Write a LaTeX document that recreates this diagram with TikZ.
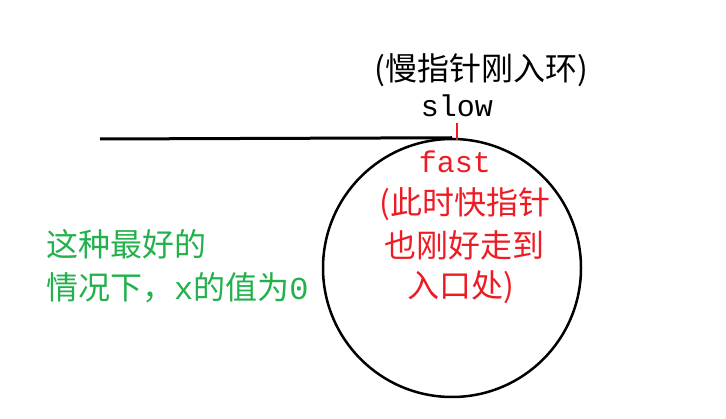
\documentclass[tikz,border=0pt]{standalone}
\usepackage{fontspec}
\newfontfamily\cjk{Noto Sans CJK SC}
\setmonofont{Liberation Mono}
\definecolor{myred}{RGB}{237,28,36}
\definecolor{mygreen}{RGB}{34,177,76}
\begin{document}
\begin{tikzpicture}[x=1pt,y=-1pt,
  txt/.style={inner sep=0pt,font=\cjk\fontsize{32}{36}\selectfont},
  mono/.style={inner sep=0pt,font=\ttfamily\fontsize{30}{34}\selectfont}]
\useasboundingbox (0,0) rectangle (726,419);
\coordinate (L) at (100,139);
\node[circle,draw,line width=2.5pt,minimum size=258pt,inner sep=0pt] (C) at (452,268) {};
\draw[line width=3pt] (L) -- (C.north);
\draw[myred,line width=2pt] (457,123) -- (457,140);
\node[txt] (t1) at (481,70) {(慢指针刚入环)};
\node[mono] (slow) at (457,106) {slow};
\node[mono,myred] (fast) at (455,162) {fast};
\node[txt,myred] (r1) at (465,204) {(此时快指针};
\node[txt,myred] (r2) at (464,245) {也刚好走到};
\node[txt,myred] (r3) at (461,287) {入口处)};
\node[txt,mygreen,anchor=west] (g1) at (46,244) {这种最好的};
\node[txt,mygreen,anchor=west] (g2) at (46,288) {情况下，{\ttfamily x}的值为{\ttfamily 0}};
\end{tikzpicture}
\end{document}
